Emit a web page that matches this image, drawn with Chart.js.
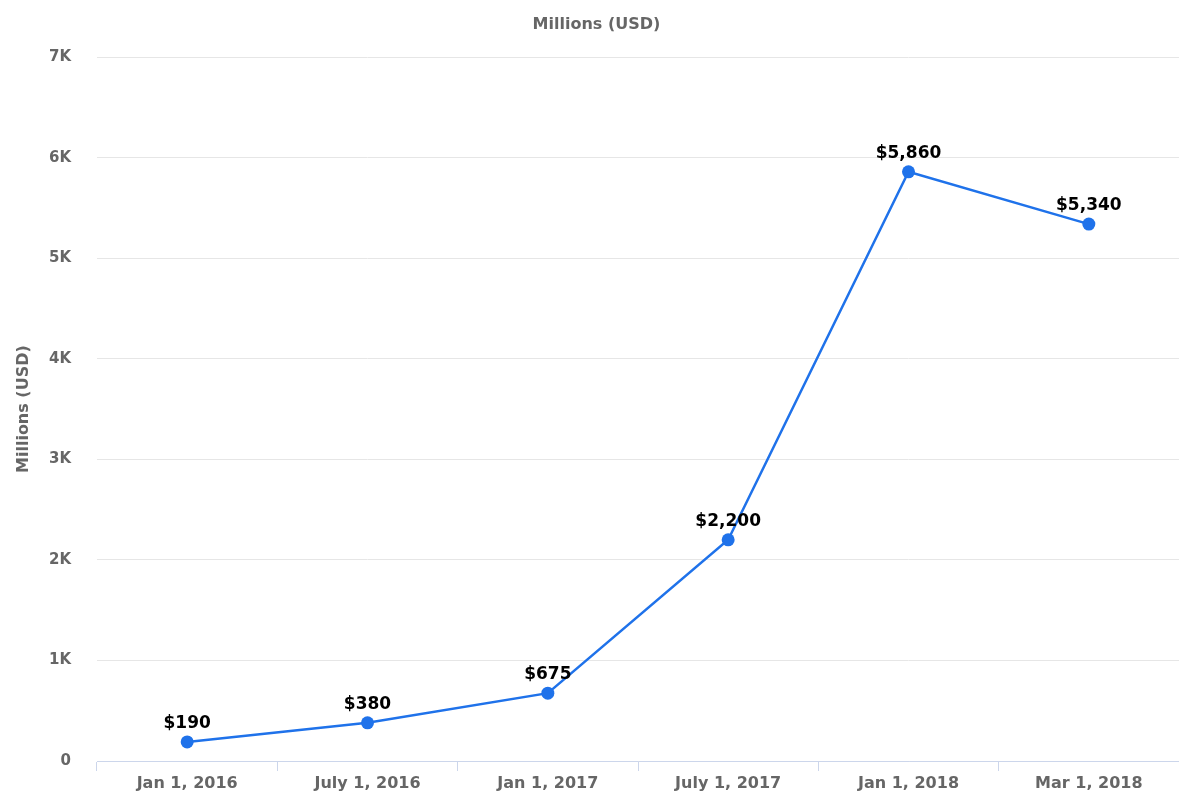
<!DOCTYPE html>
<html>
<head>
<meta charset="utf-8">
<script src="https://cdn.jsdelivr.net/npm/chart.js@4/dist/chart.umd.min.js"></script>
<style>
  html, body { margin: 0; padding: 0; background: #fff; }
  #wrap { width: 1179px; height: 796px; }
</style>
</head>
<body>
<div id="wrap"><canvas id="chart"></canvas></div>
<script>
const categories = ['Jan 1, 2016', 'July 1, 2016', 'Jan 1, 2017', 'July 1, 2017', 'Jan 1, 2018', 'Mar 1, 2018'];
const values = [190, 380, 675, 2200, 5860, 5340];
const yTicks = [0, 1000, 2000, 3000, 4000, 5000, 6000, 7000];

const FONT = 'DejaVu Sans';
const GREY = '#666666';
const LINE = '#1f72ea';

// draws "$1,234" over each point
const pointLabels = {
  id: 'pointLabels',
  afterDatasetsDraw(chart) {
    const ctx = chart.ctx;
    const meta = chart.getDatasetMeta(0);
    ctx.save();
    ctx.font = 'bold 17px ' + FONT;
    ctx.fillStyle = '#000';
    ctx.textAlign = 'center';
    ctx.textBaseline = 'bottom';
    meta.data.forEach((pt, i) => {
      ctx.fillText('$' + values[i].toLocaleString('en-US'), pt.x, pt.y - 10);
    });
    ctx.restore();
  }
};

new Chart(document.getElementById('chart'), {
  type: 'line',
  data: {
    labels: categories,
    datasets: [{
      data: values,
      borderColor: LINE,
      backgroundColor: LINE,
      borderWidth: 2.5,
      pointRadius: 6.5,
      pointHoverRadius: 6.5,
      pointBorderWidth: 0,
      tension: 0
    }]
  },
  options: {
    responsive: true,
    maintainAspectRatio: false,
    animation: false,
    layout: { autoPadding: false, padding: { top: 0, right: 0, bottom: 0, left: 14 } },
    plugins: {
      legend: { display: false },
      tooltip: { enabled: false },
      title: {
        display: true,
        text: 'Millions (USD)',
        color: GREY,
        font: { family: FONT, size: 16, weight: 'bold' },
        padding: { top: 15, bottom: 23 }
      }
    },
    scales: {
      x: {
        offset: true,
        grid: {
          offset: true,
          drawOnChartArea: false,
          drawTicks: true,
          tickLength: 10,
          tickColor: '#ccd6eb'
        },
        border: { color: '#ccd6eb', width: 1 },
        ticks: {
          color: GREY,
          font: { family: FONT, size: 16, weight: 'bold' },
          padding: 3,
          maxRotation: 0
        },
        afterFit(scale) { scale.height = 35; scale.paddingRight = 0; scale.paddingLeft = 0; }
      },
      y: {
        min: 0,
        max: 7000,
        afterBuildTicks(scale) { scale.ticks = yTicks.map(v => ({ value: v })); },
        grid: { color: '#e6e6e6', drawTicks: false, lineWidth: 1 },
        border: { display: false },
        ticks: {
          color: GREY,
          font: { family: FONT, size: 15, weight: 'bold' },
          padding: 26,
          callback: v => v === 0 ? '0' : (v / 1000) + 'K'
        },
        title: {
          display: true,
          text: 'Millions (USD)',
          color: GREY,
          font: { family: FONT, size: 16, weight: 'bold' },
          padding: { top: 0, bottom: 0 }
        },
        afterFit(scale) { scale.width = 83; scale.paddingTop = 0; scale.paddingBottom = 0; }
      }
    }
  },
  plugins: [pointLabels]
});
</script>
</body>
</html>
